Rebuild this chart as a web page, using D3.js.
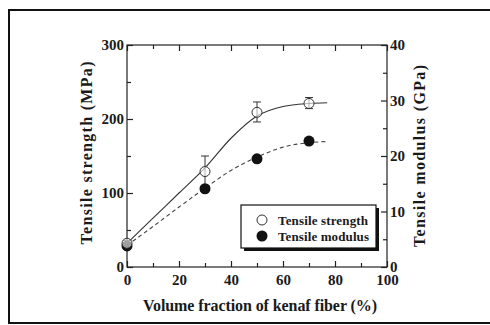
<!DOCTYPE html>
<html>
<head>
<meta charset="utf-8">
<script src="https://cdn.jsdelivr.net/npm/d3@7"></script>
<style>
  body { margin: 0; background: #fff; }
  svg { display: block; }
  text { font-family: "Liberation Serif", "Times New Roman", serif; font-weight: bold; fill: #1a1a1a; }
</style>
</head>
<body>
<div id="chart"></div>
<script>
// measured points
const fraction = [0, 30, 50, 70];
const strength = [32, 129, 209, 221];
const strengthLo = [28, 110, 196, 214];
const strengthHi = [36, 150, 223, 229];
const modulus = [3.8, 14.1, 19.5, 22.7];

// fitted curves
const fitX = [0, 10, 20, 30, 40, 50, 60, 70, 77];
const fitStrength = [32, 66, 100, 134, 174, 204, 217, 221, 222];
const fitModulus = [3.9, 7.3, 10.8, 14.2, 17.4, 19.8, 21.6, 22.4, 22.6];

const xTicks = [0, 20, 40, 60, 80, 100];
const yTicks = [0, 100, 200, 300];
const y2Ticks = [0, 10, 20, 30, 40];

const width = 490, height = 325;
const mLeft = 127, mRight = 387, mTop = 45, mBottom = 267;

const svg = d3.select("#chart").append("svg")
  .attr("width", width)
  .attr("height", height);

// outer frame
svg.append("rect")
  .attr("x", 9).attr("y", 10)
  .attr("width", 500).attr("height", 313)
  .attr("fill", "none").attr("stroke", "#111").attr("stroke-width", 2);

let x = d3.scaleLinear().domain([0, 100]).range([mLeft, mRight]);
let y = d3.scaleLinear().domain([0, 300]).range([mBottom, mTop]);
let y2 = d3.scaleLinear().domain([0, 40]).range([mBottom, mTop]);

// plot box
svg.append("rect")
  .attr("x", mLeft).attr("y", mTop)
  .attr("width", mRight - mLeft).attr("height", mBottom - mTop)
  .attr("fill", "none").attr("stroke", "#222").attr("stroke-width", 1.2);

function styleAxis(g) {
  g.select(".domain").remove();
  g.selectAll("line").attr("stroke", "#222").attr("stroke-width", 1.2);
  g.selectAll("text").attr("font-size", 15).style("font-family", "Liberation Serif").style("font-weight", "bold").attr("fill", "#1a1a1a");
}

// bottom
svg.append("g").attr("transform", `translate(0,${mBottom})`)
  .call(d3.axisBottom(x).tickValues(xTicks).tickSize(-6).tickPadding(7).tickFormat(d3.format("d")))
  .call(styleAxis);
svg.append("g").attr("transform", `translate(0,${mBottom})`)
  .call(d3.axisBottom(x).tickValues(d3.range(10, 100, 20)).tickSize(-4).tickFormat(""))
  .call(styleAxis);
// top
svg.append("g").attr("transform", `translate(0,${mTop})`)
  .call(d3.axisTop(x).tickValues(xTicks).tickSize(-6).tickFormat(""))
  .call(styleAxis);
svg.append("g").attr("transform", `translate(0,${mTop})`)
  .call(d3.axisTop(x).tickValues(d3.range(10, 100, 20)).tickSize(-4).tickFormat(""))
  .call(styleAxis);
// left
svg.append("g").attr("transform", `translate(${mLeft},0)`)
  .call(d3.axisLeft(y).tickValues(yTicks).tickSize(-6).tickPadding(3))
  .call(styleAxis);
svg.append("g").attr("transform", `translate(${mLeft},0)`)
  .call(d3.axisLeft(y).tickValues([50, 150, 250]).tickSize(-4).tickFormat(""))
  .call(styleAxis);
// right
svg.append("g").attr("transform", `translate(${mRight},0)`)
  .call(d3.axisRight(y2).tickValues(y2Ticks).tickSize(-6).tickPadding(3))
  .call(styleAxis);
svg.append("g").attr("transform", `translate(${mRight},0)`)
  .call(d3.axisRight(y2).tickValues([5, 15, 25, 35]).tickSize(-4).tickFormat(""))
  .call(styleAxis);

// axis titles
svg.append("text")
  .attr("transform", `translate(92,153) rotate(-90)`)
  .attr("text-anchor", "middle").attr("font-size", 16)
  .attr("textLength", 183).attr("lengthAdjust", "spacing")
  .text("Tensile strength (MPa)");
svg.append("text")
  .attr("transform", `translate(425,156) rotate(-90)`)
  .attr("text-anchor", "middle").attr("font-size", 16)
  .attr("textLength", 182).attr("lengthAdjust", "spacing")
  .text("Tensile modulus (GPa)");
svg.append("text")
  .attr("x", 260).attr("y", 311)
  .attr("text-anchor", "middle").attr("font-size", 16)
  .attr("textLength", 234).attr("lengthAdjust", "spacing")
  .text("Volume fraction of kenaf fiber (%)");

// fit curves
const lineS = d3.line().x((d, i) => x(fitX[i])).y(d => y(d)).curve(d3.curveMonotoneX);
const lineM = d3.line().x((d, i) => x(fitX[i])).y(d => y2(d)).curve(d3.curveMonotoneX);

svg.append("path").datum(fitStrength)
  .attr("d", lineS).attr("fill", "none").attr("stroke", "#333").attr("stroke-width", 1.1);
svg.append("path").datum(fitModulus)
  .attr("d", lineM).attr("fill", "none").attr("stroke", "#444").attr("stroke-width", 1.1)
  .attr("stroke-dasharray", "4,3");

// error bars
const eb = svg.append("g").attr("stroke", "#333").attr("stroke-width", 1);
fraction.forEach((f, i) => {
  eb.append("line").attr("x1", x(f)).attr("x2", x(f)).attr("y1", y(strengthLo[i])).attr("y2", y(strengthHi[i]));
  eb.append("line").attr("x1", x(f) - 4).attr("x2", x(f) + 4).attr("y1", y(strengthLo[i])).attr("y2", y(strengthLo[i]));
  eb.append("line").attr("x1", x(f) - 4).attr("x2", x(f) + 4).attr("y1", y(strengthHi[i])).attr("y2", y(strengthHi[i]));
});

// markers
svg.append("g").selectAll("circle").data(modulus).join("circle")
  .attr("cx", (d, i) => x(fraction[i])).attr("cy", d => y2(d)).attr("r", 5.5)
  .attr("fill", "#111");
svg.append("g").selectAll("circle").data(strength).join("circle")
  .attr("cx", (d, i) => x(fraction[i])).attr("cy", d => y(d)).attr("r", 5)
  .attr("fill", "#fff").attr("fill-opacity", 0.6).attr("stroke", "#333").attr("stroke-width", 1);

// legend
const lg = svg.append("g").attr("transform", "translate(241,205)");
lg.append("rect").attr("x", 3).attr("y", 3).attr("width", 135).attr("height", 43).attr("fill", "#111");
lg.append("rect").attr("x", 0).attr("y", 0).attr("width", 135).attr("height", 43)
  .attr("fill", "#fff").attr("stroke", "#111").attr("stroke-width", 1.2);
lg.append("circle").attr("cx", 21).attr("cy", 15).attr("r", 5)
  .attr("fill", "#fff").attr("stroke", "#333").attr("stroke-width", 1);
lg.append("circle").attr("cx", 21).attr("cy", 31).attr("r", 5.5).attr("fill", "#111");
lg.append("text").attr("x", 37).attr("y", 20).attr("font-size", 13)
  .attr("textLength", 90).attr("lengthAdjust", "spacing").text("Tensile strength");
lg.append("text").attr("x", 37).attr("y", 36).attr("font-size", 13)
  .attr("textLength", 91).attr("lengthAdjust", "spacing").text("Tensile modulus");
</script>
</body>
</html>
